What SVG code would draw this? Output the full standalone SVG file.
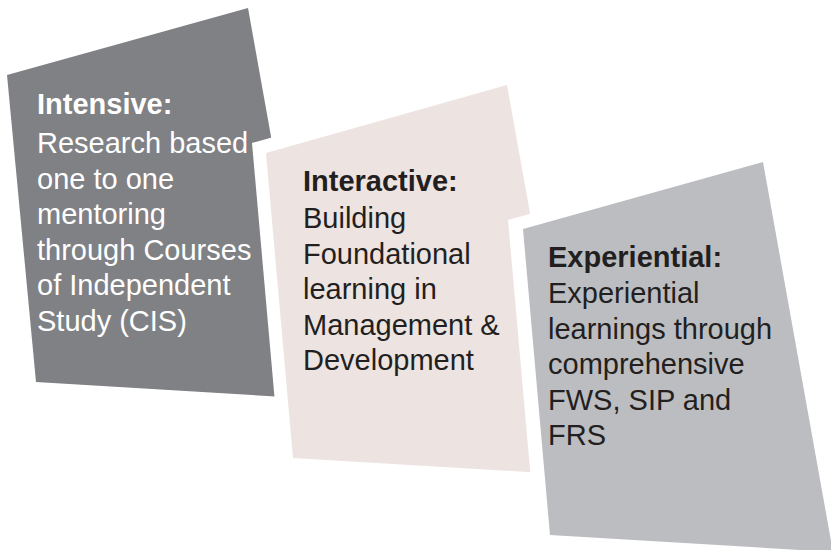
<svg xmlns="http://www.w3.org/2000/svg" width="831" height="550" viewBox="0 0 831 550">
  <style>
    .t { font-family: "Liberation Sans", Arial, sans-serif; font-size: 29px; }
    .h { font-weight: bold; }
    .light { fill: #ffffff; }
    .dark { fill: #231f20; }
    .backing { fill: #ffffff; }
  </style>
  <rect x="0" y="0" width="831" height="550" fill="#ffffff"/>
  <g id="intensive">
    <polygon points="7,75 248,8 318,399 36,382" fill="#808184"/>
    <text class="t light">
      <tspan class="h" x="37" y="114">Intensive:</tspan>
      <tspan x="37" y="153">Research based</tspan>
      <tspan x="37" y="188.5">one to one</tspan>
      <tspan x="37" y="224">mentoring</tspan>
      <tspan x="37" y="259.5">through Courses</tspan>
      <tspan x="37" y="295">of Independent</tspan>
      <tspan x="37" y="330.5">Study (CIS)</tspan>
    </text>
  </g>
  <g id="interactive">
    <polygon class="backing" points="252,143 493,75 563,465 279,448"/>
    <polygon points="266,153 507,85 577,475 293,458" fill="#ede3e0"/>
    <text class="t dark">
      <tspan class="h" x="303" y="191">Interactive:</tspan>
      <tspan x="303" y="228">Building</tspan>
      <tspan x="303" y="263.5">Foundational</tspan>
      <tspan x="303" y="299">learning in</tspan>
      <tspan x="303" y="334.5">Management &amp;</tspan>
      <tspan x="303" y="370">Development</tspan>
    </text>
  </g>
  <g id="experiential">
    <polygon class="backing" points="508,220 748,153 818,543 535,526"/>
    <polygon points="523,229 763,162 833,552 550,535" fill="#bcbdc1"/>
    <text class="t dark">
      <tspan class="h" x="548" y="267">Experiential:</tspan>
      <tspan x="548" y="303">Experiential</tspan>
      <tspan x="548" y="338.5">learnings through</tspan>
      <tspan x="548" y="374">comprehensive</tspan>
      <tspan x="548" y="409.5">FWS, SIP and</tspan>
      <tspan x="548" y="445">FRS</tspan>
    </text>
  </g>
  <g id="connectors"></g>
</svg>
